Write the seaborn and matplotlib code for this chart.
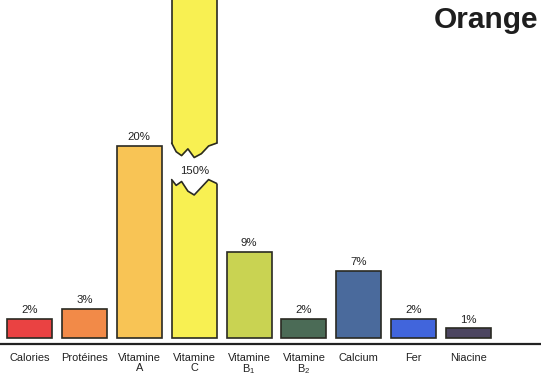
import numpy as np
import pandas as pd
import seaborn as sns
import matplotlib.pyplot as plt

# nutrient share (%) of daily needs for one orange
nutrients = ['Calories', 'Protéines', 'Vitamine\nA', 'Vitamine\nC', 'Vitamine\nB$_1$',
             'Vitamine\nB$_2$', 'Calcium', 'Fer', 'Niacine']
percent = [2, 3, 20, 150, 9, 2, 7, 2, 1]
colors = ['#ea4242', '#f28a48', '#f8c455', '#f8f052', '#c9d352',
          '#4b6b56', '#4a6a9c', '#4165dc', '#4c4560']
broken = 'Vitamine\nC'

sns.set_style('white')
plt.rcParams['font.family'] = ['Liberation Sans', 'DejaVu Sans']
plt.rcParams['mathtext.fontset'] = 'custom'
plt.rcParams['mathtext.rm'] = 'Liberation Sans'
plt.rcParams['mathtext.it'] = 'Liberation Sans'

df = pd.DataFrame({'Nutrient': nutrients, 'Percent': percent})

fig = plt.figure(figsize=(5.41, 3.76), dpi=100)
ax = fig.add_axes([0, 0.085, 1, 0.915])

sns.barplot(data=df, x='Nutrient', y='Percent', hue='Nutrient', palette=colors,
            legend=False, width=0.82, edgecolor='#2a2a22', linewidth=1.2,
            saturation=1, ax=ax)

ax.set_xlim(-0.537, 9.317)
ax.set_ylim(-0.62, 35.2)

# value labels
for i, (n, v) in enumerate(zip(nutrients, percent)):
    if n == broken:
        continue
    ax.text(i, v + 0.4, f'{v}%', ha='center', va='bottom', fontsize=8.2,
            color='#222222')

# break in the tall bar
k = nutrients.index(broken)
p = ax.patches[k]
x0, w = p.get_x(), p.get_width()
fx = np.array([0, 0.1, 0.22, 0.36, 0.5, 0.66, 0.82, 1.0])
low = np.array([16.5, 15.9, 16.3, 15.3, 14.9, 15.7, 16.5, 16.1])
high = np.array([20.3, 19.4, 19.0, 19.7, 18.8, 19.2, 20.0, 20.3])
xs = x0 + fx * w
ax.fill_between(np.r_[x0 - 0.03, xs, x0 + w + 0.03], np.r_[low[0], low, low[-1]],
                np.r_[high[0], high, high[-1]], color='white', zorder=3, lw=0)
ax.plot(xs, low, color='#2a2a22', lw=1.2, zorder=4)
ax.plot(xs, high, color='#2a2a22', lw=1.2, zorder=4)
ax.text(k, 17.4, f'{percent[k]}%', ha='center', va='center', fontsize=8.2,
        color='#222222', zorder=5)

ax.set_xlabel('')
ax.set_ylabel('')
ax.set_yticks([])
ax.set_xticks(range(len(nutrients)))
ax.set_xticklabels(nutrients, linespacing=0.95, fontsize=7.9, color='#222222')
ax.tick_params(axis='x', length=0, pad=6.5)
for s in ['top', 'left', 'right']:
    ax.spines[s].set_visible(False)
ax.spines['bottom'].set_linewidth(1.6)
ax.spines['bottom'].set_color('#222222')

fig.text(0.994, 0.985, 'Orange', ha='right', va='top', fontsize=21.5,
         fontweight='bold', color='#1e1e1e')

fig.savefig('out.png', dpi=100)
